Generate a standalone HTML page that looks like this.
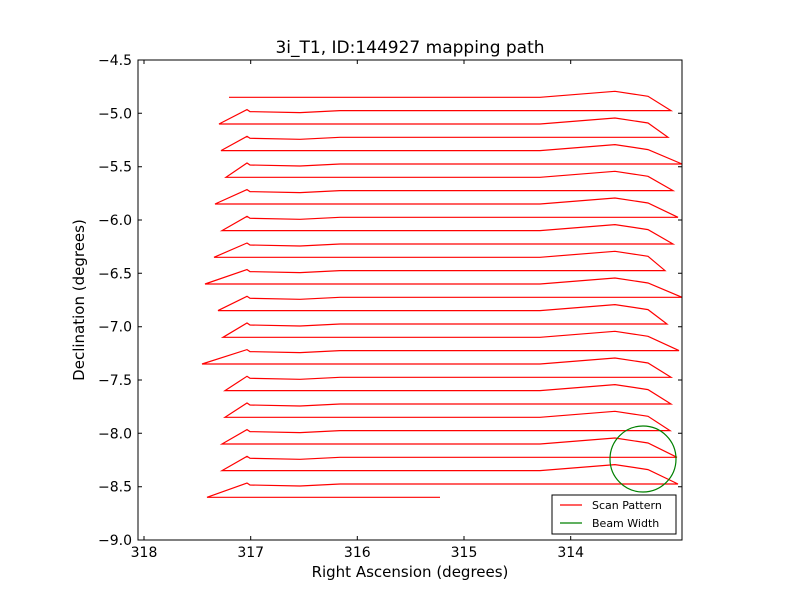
<!DOCTYPE html>
<html><head><meta charset="utf-8"><style>body{margin:0;background:#fff}</style></head><body>
<svg width="800" height="600" xmlns="http://www.w3.org/2000/svg" font-family="'DejaVu Sans','Liberation Sans',sans-serif">
<rect width="800" height="600" fill="#fff"/>
<defs><clipPath id="c"><rect x="138" y="60" width="544" height="480"/></clipPath></defs>
<g clip-path="url(#c)" fill="none">
<polyline stroke="#ff0000" stroke-width="1.2" points="229,97.3 540,97.3 615,91.3 648,96.3 671,110.6 340,110.6 300,112.6 250,111.6 247,109.6 219,124 540,124 615,118 648,123 668,137.3 340,137.3 300,139.3 250,138.3 247,136.3 221,150.6 540,150.6 615,144.6 648,149.6 682,164 340,164 300,166 250,165 247,163 226,177.3 540,177.3 615,171.3 648,176.3 673,190.6 340,190.6 300,192.6 250,191.6 247,189.6 215,204 540,204 615,198 648,203 678,217.3 340,217.3 300,219.3 250,218.3 247,216.3 222,230.6 540,230.6 615,224.6 648,229.6 673,244 340,244 300,246 250,245 247,243 214,257.3 540,257.3 615,251.3 648,256.3 665,270.6 340,270.6 300,272.6 250,271.6 247,269.6 205,284 540,284 615,278 648,283 682,297.3 340,297.3 300,299.3 250,298.3 247,296.3 218,310.6 540,310.6 615,304.6 648,309.6 667,324 340,324 300,326 250,325 247,323 223,337.3 540,337.3 615,331.3 648,336.3 679,350.6 340,350.6 300,352.6 250,351.6 247,349.6 202,364 540,364 615,358 648,363 671,377.3 340,377.3 300,379.3 250,378.3 247,376.3 225,390.6 540,390.6 615,384.6 648,389.6 671,404 340,404 300,406 250,405 247,403 225,417.3 540,417.3 615,411.3 648,416.3 670,430.6 340,430.6 300,432.6 250,431.6 247,429.6 222,444 540,444 615,438 648,443 677,457.3 340,457.3 300,459.3 250,458.3 247,456.3 222,470.6 540,470.6 615,464.6 648,469.6 678,484 340,484 300,486 250,485 247,483 207,497.3 440,497.3"/>
<circle cx="643" cy="459" r="33" stroke="#008000" stroke-width="1.2"/>
</g>
<rect x="138" y="60" width="544" height="480" fill="none" stroke="#000" stroke-width="1"/>
<g stroke="#000" stroke-width="1">
<path d="M144,540v-4M250.7,540v-4M357.3,540v-4M464,540v-4M570.7,540v-4M144,60v4M250.7,60v4M357.3,60v4M464,60v4M570.7,60v4"/>
<path d="M138,60h4M138,113.3h4M138,166.7h4M138,220h4M138,273.3h4M138,326.7h4M138,380h4M138,433.3h4M138,486.7h4M138,540h4M682,113.3h-4M682,166.7h-4M682,220h-4M682,273.3h-4M682,326.7h-4M682,380h-4M682,433.3h-4M682,486.7h-4"/>
</g>
<g font-size="14" fill="#000" text-anchor="middle">
<text x="144" y="557">318</text><text x="250.7" y="557">317</text><text x="357.3" y="557">316</text><text x="464" y="557">315</text><text x="570.7" y="557">314</text>
</g>
<g font-size="14" fill="#000" text-anchor="end">
<text x="132" y="65">−4.5</text><text x="132" y="118.3">−5.0</text><text x="132" y="171.7">−5.5</text><text x="132" y="225">−6.0</text><text x="132" y="278.3">−6.5</text><text x="132" y="331.7">−7.0</text><text x="132" y="385">−7.5</text><text x="132" y="438.3">−8.0</text><text x="132" y="491.7">−8.5</text><text x="132" y="545">−9.0</text>
</g>
<text x="410" y="53" font-size="17" text-anchor="middle">3i_T1, ID:144927 mapping path</text>
<text x="410" y="577" font-size="15" text-anchor="middle">Right Ascension (degrees)</text>
<text x="84" y="300" font-size="15" text-anchor="middle" transform="rotate(-90 84 300)">Declination (degrees)</text>
<rect x="552" y="495" width="124" height="39" fill="#fff" stroke="#000" stroke-width="1"/>
<line x1="560" y1="505" x2="582" y2="505" stroke="#ff0000" stroke-width="1.2"/>
<line x1="560" y1="523" x2="582" y2="523" stroke="#008000" stroke-width="1.2"/>
<text x="592" y="509" font-size="11">Scan Pattern</text>
<text x="592" y="527" font-size="11">Beam Width</text>
</svg>
</body></html>
